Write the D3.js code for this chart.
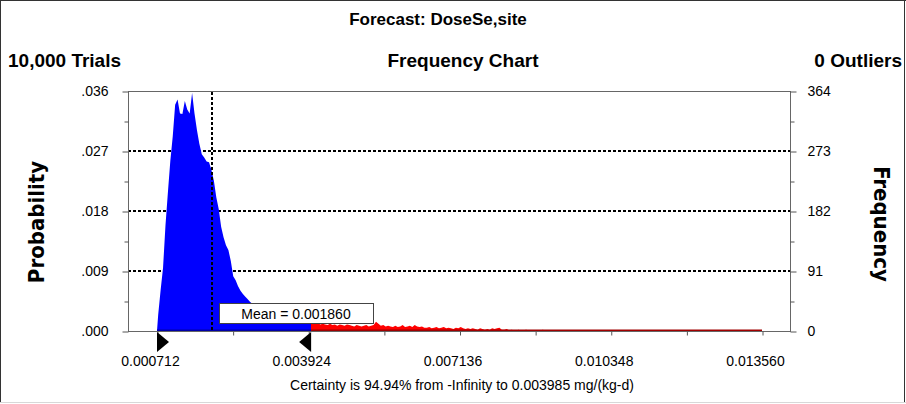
<!DOCTYPE html>
<html>
<head>
<meta charset="utf-8">
<script src="https://cdn.jsdelivr.net/npm/d3@7/dist/d3.min.js"></script>
<style>
  html, body { margin: 0; padding: 0; background: #fff; }
  svg { display: block; }
  text { font-family: "Liberation Sans", Arial, sans-serif; fill: #000; }
</style>
</head>
<body>
<svg id="chart" width="906" height="404"></svg>
<script>
// ---- forecast summary ----
const forecastName = "DoseSe,site";
const trials = 10000;
const outliers = 0;
const units = "mg/(kg-d)";
const binMin = 0.000712;
const binMax = 0.013560;
const meanValue = 0.001860;
const certaintyHigh = 0.003985;
const certaintyPct = 94.94;

// ---- frequency per bin (250 equal bins from binMin to binMax) ----
// bins 0-63
const freqBody = [
  25, 62, 96, 160, 210, 258, 295, 343, 351, 330,
  329, 349, 336, 330, 361, 330, 305, 284, 268, 263,
  257, 256, 244, 228, 203, 185, 158, 142, 130, 123,
  106, 83, 77, 68, 61, 56, 52, 48, 44, 41,
  37, 36, 32, 31, 30, 27, 27, 24, 25, 22,
  21, 21, 18, 19, 17, 16, 17, 14, 15, 13,
  14, 12, 13, 12
];
// bins 64-249
const freqTail = [
  12, 11, 12, 10, 11, 10, 9, 11, 9, 10,
  8, 10, 9, 8, 10, 9, 8, 7, 9, 8,
  7, 8, 9, 7, 8, 9, 14, 11, 8, 9,
  7, 8, 7, 6, 8, 6, 7, 9, 6, 7,
  8, 6, 9, 7, 6, 7, 5, 5, 6, 4,
  5, 6, 4, 5, 6, 4, 5, 4, 3, 5,
  4, 6, 4, 3, 4, 3, 4, 3, 2, 4,
  3, 2, 3, 2, 4, 3, 4, 5, 2, 2,
  3, 1, 2, 1, 1, 2, 0, 1, 2, 1,
  0, 1, 1, 0, 1, 2, 0, 1, 0, 1,
  1, 0, 1, 0, 0, 1, 1, 0, 1, 0,
  0, 1, 0, 1, 0, 0, 1, 0, 0, 1,
  0, 0, 1, 0, 0, 0, 1, 0, 0, 1,
  0, 0, 0, 1, 0, 0, 0, 0, 1, 0,
  0, 0, 0, 1, 0, 0, 0, 0, 0, 1,
  0, 0, 0, 0, 0, 0, 1, 0, 0, 0,
  0, 0, 0, 1, 0, 0, 0, 0, 0, 0,
  0, 0, 1, 0, 0, 0, 0, 0, 0, 0,
  0, 0, 0, 1, 0, 0
];

// ---- axis ticks ----
const freqTicks = [0, 91, 182, 273, 364];
const freqMinorTicks = [45.5, 136.5, 227.5, 318.5];
const valueTicks = [0.000712, 0.003924, 0.007136, 0.010348, 0.013560];
const valueTickLabels = ["0.000712", "0.003924", "0.007136", "0.010348", "0.013560"];

// ---- layout ----
const W = 906, H = 404;
const frame = { left: 128, right: 790, top: 91, bottom: 331 };
const svg = d3.select("#chart");

const x = d3.scaleLinear().domain([binMin, binMax]).range([157, 762]);
const y = d3.scaleLinear().domain([0, 364]).range([frame.bottom, frame.top]);

// histogram outline through bin centres
const freq = freqBody.concat(freqTail);
const binW = (binMax - binMin) / freq.length;
const pts = [{ v: binMin, c: 0 }]
  .concat(freq.map((c, i) => ({ v: binMin + (i + 0.5) * binW, c })))
  .concat([{ v: binMax, c: freq[freq.length - 1] }]);

// outer border
svg.append("line").attr("x1", 0).attr("x2", W).attr("y1", 0.5).attr("y2", 0.5).attr("stroke", "#333");
svg.append("line").attr("x1", 0.5).attr("x2", 0.5).attr("y1", 0).attr("y2", 402).attr("stroke", "#333");
svg.append("line").attr("x1", 904.5).attr("x2", 904.5).attr("y1", 0).attr("y2", 402).attr("stroke", "#333");
svg.append("line").attr("x1", 0).attr("x2", W).attr("y1", 402.5).attr("y2", 402.5).attr("stroke", "#d8d8d8");

// headings
svg.append("text").attr("x", 438).attr("y", 25).attr("text-anchor", "middle")
  .attr("font-weight", "bold").attr("font-size", 17).text("Forecast: " + forecastName);
const subSize = 19;
svg.append("text").attr("x", 8).attr("y", 67)
  .attr("font-weight", "bold").attr("font-size", subSize).text(d3.format(",")(trials) + " Trials");
svg.append("text").attr("x", 463).attr("y", 67).attr("text-anchor", "middle")
  .attr("font-weight", "bold").attr("font-size", subSize).text("Frequency Chart");
svg.append("text").attr("x", 902).attr("y", 67).attr("text-anchor", "end")
  .attr("font-weight", "bold").attr("font-size", subSize).text(outliers + " Outliers");

// dotted grid lines
svg.append("g").selectAll("line")
  .data(freqTicks.filter(t => t > 0 && t < 364))
  .join("line")
  .attr("x1", frame.left).attr("x2", frame.right)
  .attr("y1", d => Math.round(y(d))).attr("y2", d => Math.round(y(d)))
  .attr("stroke", "#000").attr("stroke-width", 2).attr("stroke-dasharray", "3,2");

// histogram, split at the certainty bound
const defs = svg.append("defs");
defs.append("clipPath").attr("id", "clip-in").append("rect")
  .attr("x", x(binMin) - 1).attr("y", 0).attr("width", x(certaintyHigh) - x(binMin) + 1).attr("height", H);
defs.append("clipPath").attr("id", "clip-out").append("rect")
  .attr("x", x(certaintyHigh)).attr("y", 0).attr("width", x(binMax) - x(certaintyHigh) + 1).attr("height", H);

const area = d3.area()
  .x(d => x(d.v))
  .y0(y(0))
  .y1(d => y(d.c))
  .curve(d3.curveLinear);

svg.append("path").datum(pts).attr("d", area).attr("fill", "#0000ff").attr("clip-path", "url(#clip-in)");
svg.append("path").datum(pts).attr("d", area).attr("fill", "#ff0000").attr("clip-path", "url(#clip-out)");

// darker base strokes under the histogram
svg.append("line").attr("x1", x(binMin)).attr("x2", x(certaintyHigh))
  .attr("y1", y(0) - 0.5).attr("y2", y(0) - 0.5).attr("stroke", "#0000a8").attr("stroke-width", 2);
svg.append("line").attr("x1", x(certaintyHigh)).attr("x2", x(binMax))
  .attr("y1", y(0) - 0.5).attr("y2", y(0) - 0.5).attr("stroke", "#a00000").attr("stroke-width", 2);

// plot frame
svg.append("rect")
  .attr("x", frame.left + 0.5).attr("y", frame.top + 0.5)
  .attr("width", frame.right - frame.left).attr("height", frame.bottom - frame.top)
  .attr("fill", "none").attr("stroke", "#666");

// left axis (probability)
const probFmt = d => d3.format(".3f")(d / trials).replace(/^0/, "");
const leftAxis = svg.append("g").attr("transform", `translate(${frame.left + 0.5},0.5)`)
  .call(d3.axisLeft(y).tickValues(freqTicks).tickSize(6).tickPadding(14).tickFormat(probFmt));
const leftMinor = svg.append("g").attr("transform", `translate(${frame.left + 0.5},0.5)`)
  .call(d3.axisLeft(y).tickValues(freqMinorTicks).tickSize(4).tickFormat(""));

// right axis (frequency)
const rightAxis = svg.append("g").attr("transform", `translate(${frame.right + 0.5},0.5)`)
  .call(d3.axisRight(y).tickValues(freqTicks).tickSize(6).tickPadding(11).tickFormat(d3.format("d")));
const rightMinor = svg.append("g").attr("transform", `translate(${frame.right + 0.5},0.5)`)
  .call(d3.axisRight(y).tickValues(freqMinorTicks).tickSize(4).tickFormat(""));

// bottom axis (value)
const stepTicks = d3.range(9).map(k => binMin + k * (binMax - binMin) / 8);
const bottomAxis = svg.append("g").attr("transform", `translate(0.5,${frame.bottom + 0.5})`)
  .call(d3.axisBottom(x).tickValues(stepTicks).tickSize(4).tickFormat(""));
const bottomLabels = svg.append("g").attr("transform", `translate(0,${frame.bottom})`)
  .call(d3.axisBottom(x).tickValues(valueTicks).tickSize(0).tickPadding(25)
    .tickFormat((d, i) => valueTickLabels[i]));
bottomLabels.selectAll("text").attr("dx", -7);

[leftAxis, leftMinor, rightAxis, rightMinor, bottomAxis, bottomLabels].forEach(g => {
  g.select(".domain").remove();
  g.selectAll("line").attr("stroke", "#555");
  g.selectAll("text").attr("font-size", 14).attr("font-family", "Liberation Sans, Arial, sans-serif").attr("fill", "#000");
});

// mean marker
svg.append("line")
  .attr("x1", Math.round(x(meanValue)) + 1).attr("x2", Math.round(x(meanValue)) + 1)
  .attr("y1", frame.top + 1).attr("y2", frame.bottom)
  .attr("stroke", "#000").attr("stroke-width", 2).attr("stroke-dasharray", "3,2");

const boxX = Math.round(x(meanValue)) + 8;
svg.append("rect").attr("x", boxX + 0.5).attr("y", 303.5).attr("width", 154).attr("height", 20)
  .attr("fill", "#fff").attr("stroke", "#444");
svg.append("text").attr("x", boxX + 77).attr("y", 319).attr("text-anchor", "middle")
  .attr("font-size", 14).text("Mean = " + meanValue.toFixed(6));

// certainty range markers
const xa = x(binMin), xb = x(certaintyHigh);
svg.append("path").attr("d", `M${xa},332L${xa},352L${xa + 12},342Z`).attr("fill", "#000");
svg.append("path").attr("d", `M${xb},332L${xb},352L${xb - 12},342Z`).attr("fill", "#000");

// certainty caption
svg.append("text").attr("x", 462).attr("y", 390).attr("text-anchor", "middle").attr("font-size", 14)
  .text(`Certainty is ${certaintyPct.toFixed(2)}% from -Infinity to ${certaintyHigh.toFixed(6)} ${units}`);

// axis titles
svg.append("text").attr("transform", "translate(44,222) rotate(-90)")
  .attr("text-anchor", "middle").attr("font-size", 22).attr("font-weight", "bold")
  .style("font-family", "'DejaVu Sans Condensed', 'DejaVu Sans', sans-serif")
  .text("Probability");
svg.append("text").attr("transform", "translate(874,224) rotate(90)")
  .attr("text-anchor", "middle").attr("font-size", 22).attr("font-weight", "bold")
  .style("font-family", "'DejaVu Sans Condensed', 'DejaVu Sans', sans-serif")
  .text("Frequency");
</script>
</body>
</html>
